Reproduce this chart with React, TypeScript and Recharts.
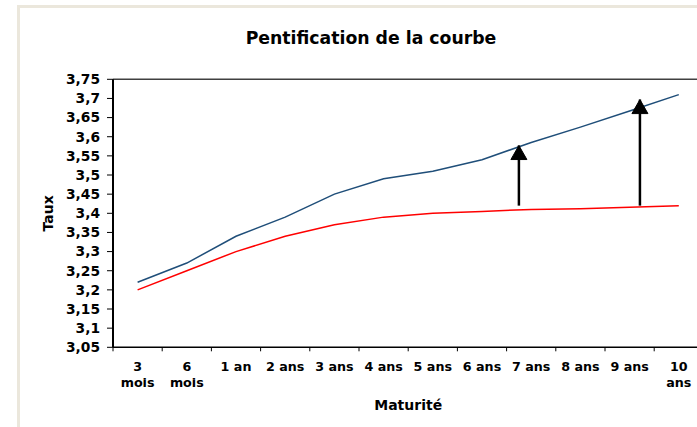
import React from "react";
import {
  LineChart,
  Line,
  XAxis,
  YAxis,
  ReferenceLine,
  ReferenceDot,
} from "recharts";

// ---- data ----
const categories = [
  "3\nmois",
  "6\nmois",
  "1 an",
  "2 ans",
  "3 ans",
  "4 ans",
  "5 ans",
  "6 ans",
  "7 ans",
  "8 ans",
  "9 ans",
  "10\nans",
];
const courbeApres = [3.22, 3.27, 3.34, 3.39, 3.45, 3.49, 3.51, 3.54, 3.585, 3.625, 3.667, 3.71];
const courbeAvant = [3.2, 3.25, 3.3, 3.34, 3.37, 3.39, 3.4, 3.405, 3.41, 3.412, 3.416, 3.42];
const yTicks = [3.05, 3.1, 3.15, 3.2, 3.25, 3.3, 3.35, 3.4, 3.45, 3.5, 3.55, 3.6, 3.65, 3.7, 3.75];
// arrows: position on the maturity scale (in category units), start and end rate
const arrowPos = [8.25, 10.71];
const arrowFrom = [3.42, 3.42];
const arrowTo = [3.577, 3.697];

const title = "Pentification de la courbe";
const yTitle = "Taux";
const xTitle = "Maturité";

const data = categories.map((c, i) => ({
  x: i + 0.5,
  label: c,
  apres: courbeApres[i],
  avant: courbeAvant[i],
}));

const xTicks = Array.from({ length: categories.length * 2 + 1 }, (_, i) => i / 2);

const FONT = "'DejaVu Sans', Verdana, sans-serif";

const XTick = (props: any) => {
  const { x, y, payload } = props;
  const v = payload.value as number;
  if (Number.isInteger(v)) {
    return <line x1={x} y1={y} x2={x} y2={y + 4} stroke="#000" strokeWidth={1} />;
  }
  const idx = Math.floor(v);
  const lines = (categories[idx] || "").split("\n");
  return (
    <text
      x={x}
      y={y}
      textAnchor="middle"
      fontFamily={FONT}
      fontSize={12.7}
      fontWeight="bold"
      fill="#000"
    >
      {lines.map((l, i) => (
        <tspan key={i} x={x} dy={i === 0 ? 24 : 16}>
          {l}
        </tspan>
      ))}
    </text>
  );
};

const fmt = (v: number) => String(v).replace(".", ",");

const Arrowhead = (props: any) => {
  const { cx, cy } = props;
  return (
    <polygon
      points={`${cx},${cy} ${cx - 8},${cy + 14} ${cx + 8},${cy + 14}`}
      fill="#000"
      stroke="#000"
      strokeWidth={1}
    />
  );
};

export default function App() {
  const W = 724;
  const H = 427;
  const plotLeft = 113;
  const plotWidth = 590.4;
  return (
    <div
      style={{
        position: "fixed",
        left: 0,
        top: 0,
        width: 697,
        height: 427,
        overflow: "hidden",
        background: "#fff",
      }}
    >
      <div
        style={{
          position: "absolute",
          left: 17,
          top: 5,
          width: 800,
          height: 600,
          borderLeft: "3px solid #ebe7dc",
          borderTop: "3px solid #ebe7dc",
          boxSizing: "border-box",
        }}
      />
      <svg
        width={697}
        height={60}
        style={{ position: "absolute", left: 0, top: 0 }}
      >
        <text
          x={371}
          y={44}
          textAnchor="middle"
          fontFamily={FONT}
          fontSize={17.3}
          fontWeight="bold"
          fill="#000"
        >
          {title}
        </text>
      </svg>
      <div style={{ position: "absolute", left: 0, top: 0 }}>
        <LineChart
          width={W}
          height={H}
          data={data}
          margin={{ top: 79.3, right: W - plotLeft - plotWidth, bottom: 14.7, left: 0 }}
        >
          <XAxis
            dataKey="x"
            type="number"
            domain={[0, categories.length]}
            ticks={xTicks}
            interval={0}
            tickLine={false}
            tickSize={0}
            tickMargin={0}
            height={65}
            axisLine={{ stroke: "#000", strokeWidth: 1.5 }}
            tick={<XTick />}
            label={{
              content: (p: any) => {
                const vb = p.viewBox;
                return (
                  <text
                    x={vb.x + vb.width / 2}
                    y={vb.y + 63}
                    textAnchor="middle"
                    fontFamily={FONT}
                    fontSize={14}
                    fontWeight="bold"
                    fill="#000"
                  >
                    {xTitle}
                  </text>
                );
              },
            }}
          />
          <YAxis
            type="number"
            domain={[yTicks[0], yTicks[yTicks.length - 1]]}
            ticks={yTicks}
            interval={0}
            width={plotLeft}
            tickSize={6}
            tickMargin={7}
            tickFormatter={fmt}
            axisLine={{ stroke: "#000", strokeWidth: 2 }}
            tickLine={{ stroke: "#000", strokeWidth: 1 }}
            tick={{
              fontFamily: FONT,
              fontSize: 13.8,
              fontWeight: "bold",
              fill: "#000",
            }}
            label={{
              content: (p: any) => {
                const vb = p.viewBox;
                const cx = vb.x + 48;
                const cy = vb.y + vb.height / 2;
                return (
                  <text
                    x={cx}
                    y={cy}
                    transform={`rotate(-90, ${cx}, ${cy})`}
                    textAnchor="middle"
                    dominantBaseline="central"
                    fontFamily={FONT}
                    fontSize={14}
                    fontWeight="bold"
                    fill="#000"
                  >
                    {yTitle}
                  </text>
                );
              },
            }}
          />
          <ReferenceLine
            y={yTicks[yTicks.length - 1]}
            stroke="#404040"
            strokeWidth={1.5}
            ifOverflow="visible"
          />
          <Line
            dataKey="avant"
            stroke="#ff0000"
            strokeWidth={1.5}
            dot={false}
            isAnimationActive={false}
          />
          <Line
            dataKey="apres"
            stroke="#1f4e79"
            strokeWidth={1.5}
            dot={false}
            isAnimationActive={false}
          />
          {arrowPos.map((px, i) => (
            <ReferenceLine
              key={"s" + i}
              segment={[
                { x: px, y: arrowFrom[i] },
                { x: px, y: arrowTo[i] },
              ]}
              stroke="#000"
              strokeWidth={2.5}
            />
          ))}
          {arrowPos.map((px, i) => (
            <ReferenceDot
              key={"h" + i}
              x={px}
              y={arrowTo[i]}
              r={8}
              shape={<Arrowhead />}
            />
          ))}
        </LineChart>
      </div>
    </div>
  );
}
